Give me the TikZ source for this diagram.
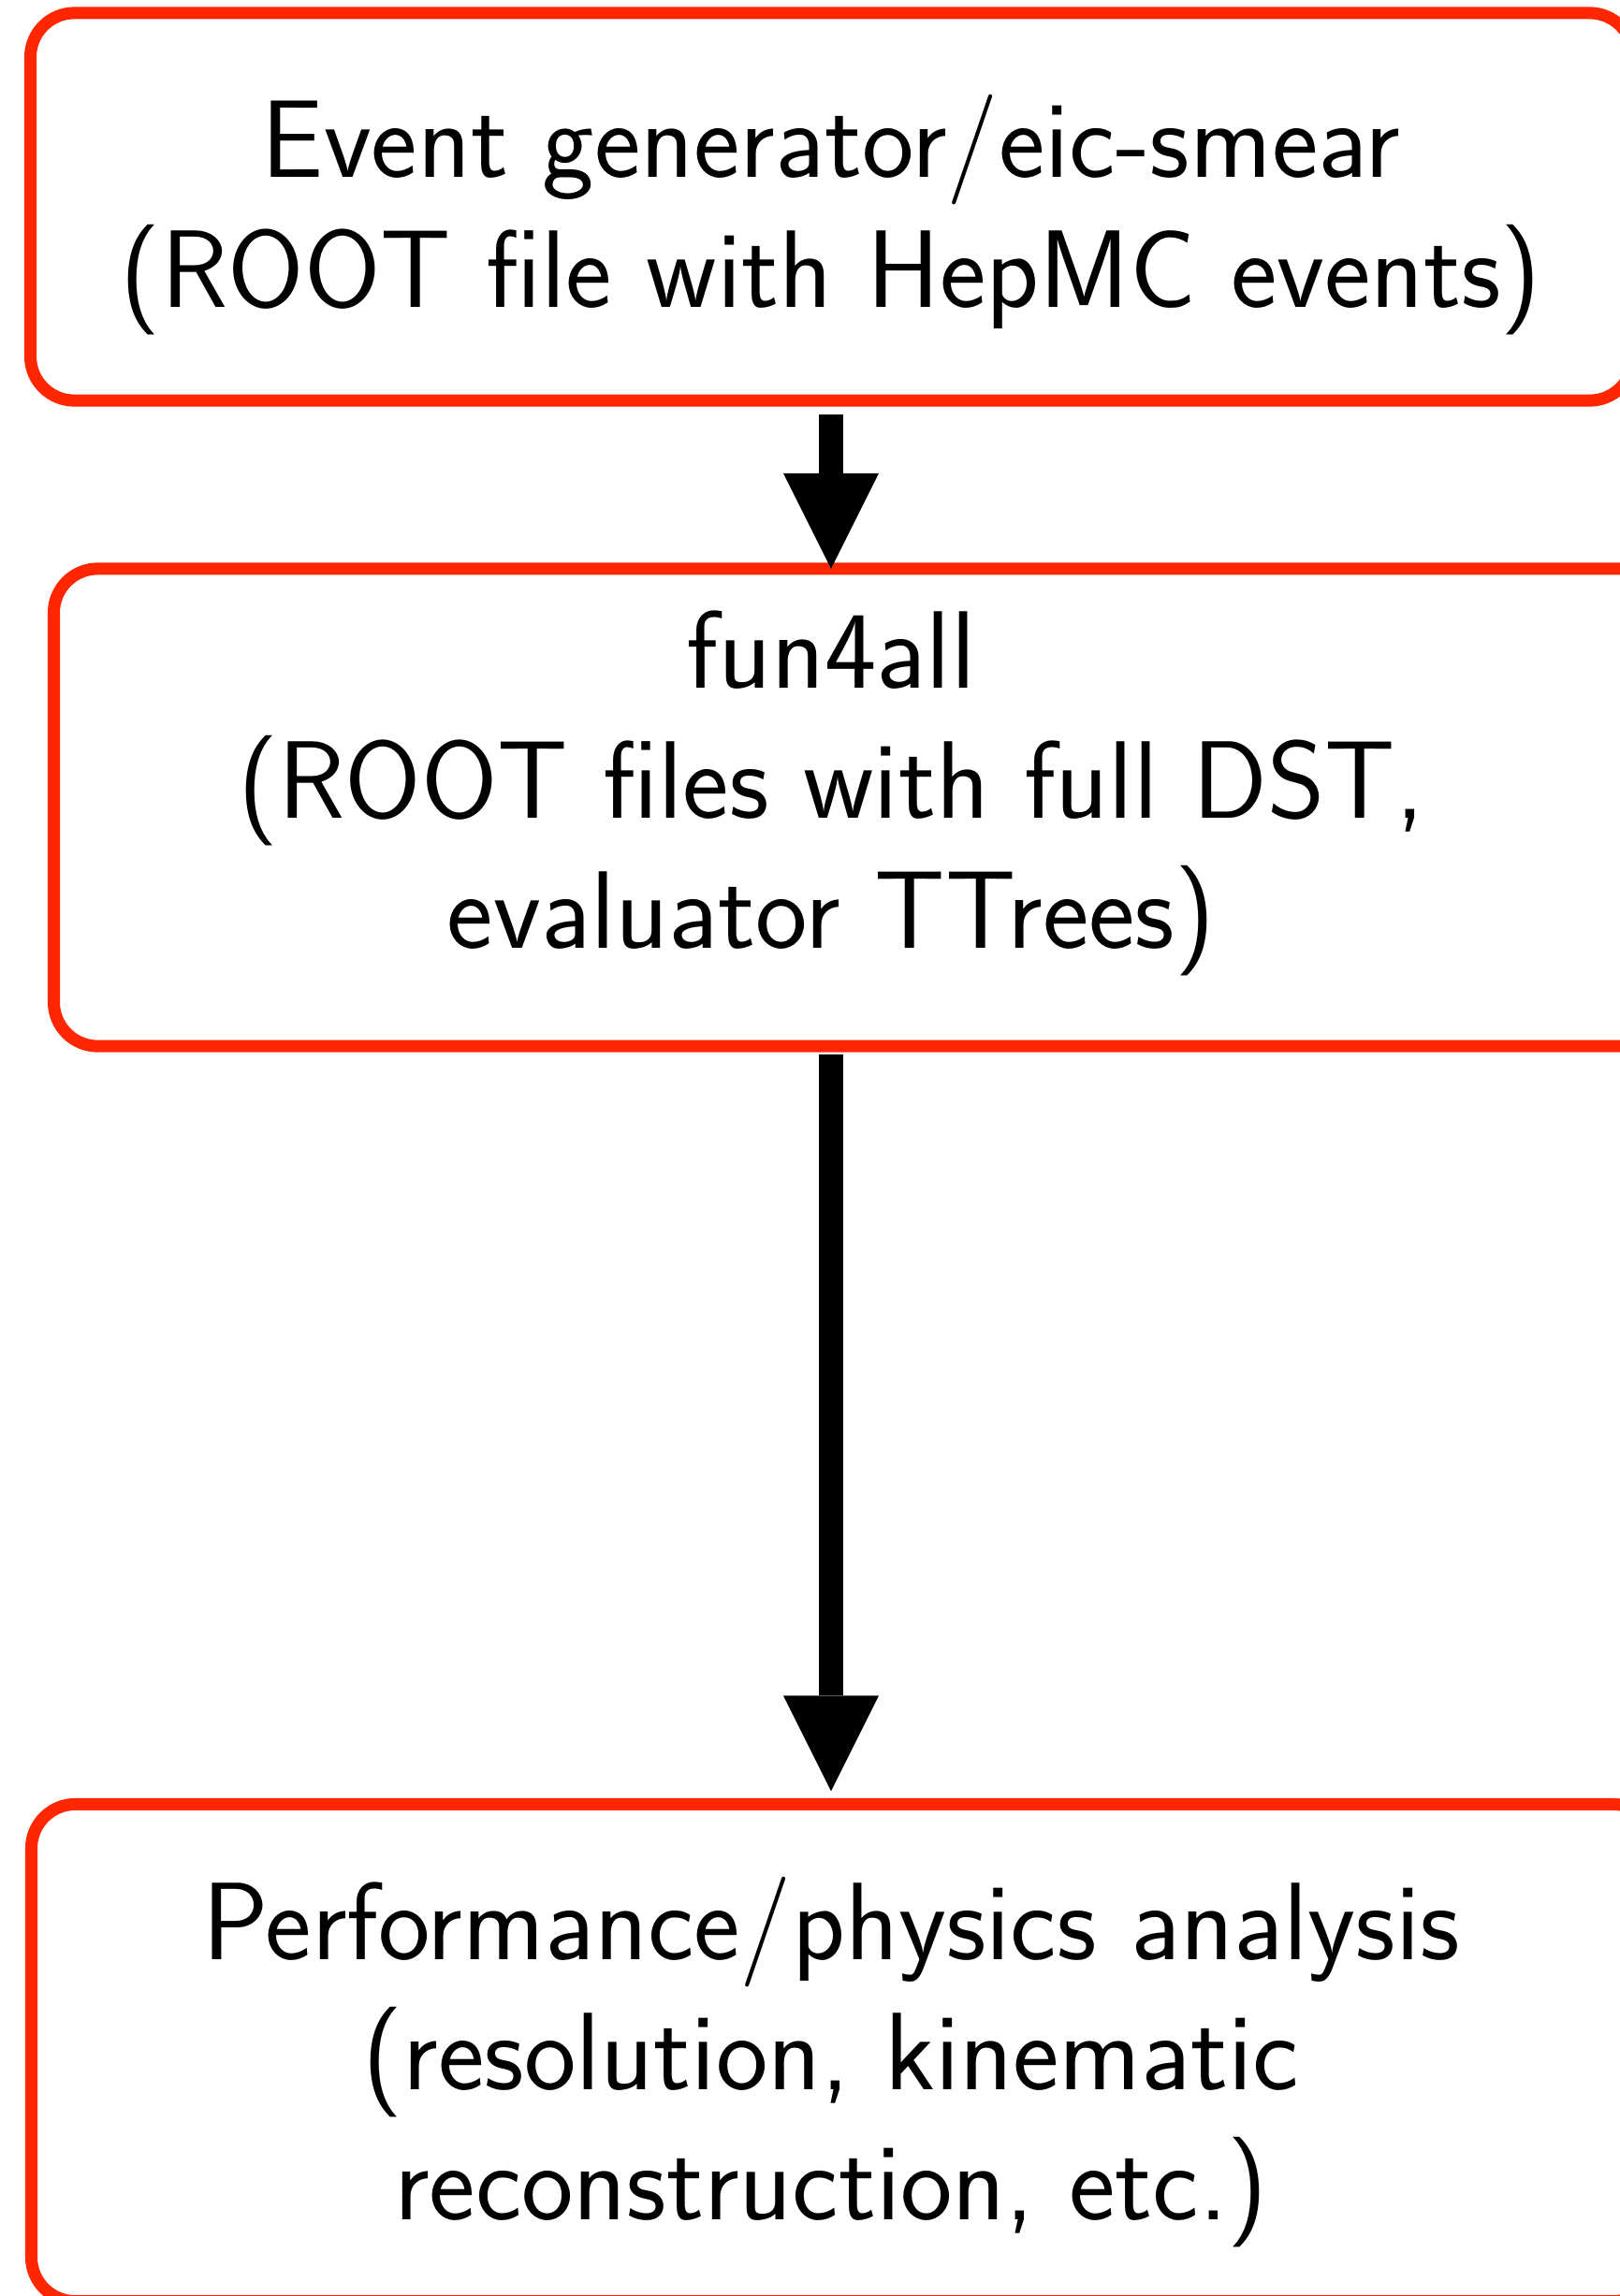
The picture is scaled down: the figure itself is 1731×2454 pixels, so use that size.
\documentclass[tikz,border=0pt]{standalone}
\usepackage{tikz}
\usetikzlibrary{arrows.meta,calc}
\definecolor{boxred}{RGB}{255,38,0}

\begin{document}
\begin{tikzpicture}
[x=0.01cm,y=-0.01cm,
 box/.style={draw=boxred,line width=0.13cm,rounded corners=0.47cm,outer sep=0pt,inner sep=0pt},
 lbl/.style={align=center,font=\fontsize{33.5}{39.5}\selectfont\sffamily},
 flow/.style={line width=0.26cm,-{Triangle[length=1.02cm,width=1.02cm,line width=0pt]}}]
\useasboundingbox (0,0) rectangle (1731,2454);

\node[box,minimum width=17.12cm,minimum height=4.14cm] (gen) at (889,221) {};
\node[lbl] (gentxt) at (888,230) {Event generator/eic-smear\\(ROOT file with HepMC events)};

\node[box,minimum width=17.32cm,minimum height=5.10cm] (sim) at (924,863) {};
\node[lbl] (simtxt) at (888,848) {fun4all\\(ROOT files with full DST,\\evaluator TTrees)};

\node[box,minimum width=17.36cm,minimum height=5.31cm] (ana) at (902,2194) {};
\node[lbl] (anatxt) at (888,2204) {Performance/physics analysis\\(resolution, kinematic\\reconstruction, etc.)};

\draw[flow] ($(gen.south -| gentxt)+(0,15)$) -- (gentxt |- sim.north);
\draw[flow] ($(sim.south -| simtxt)+(0,9)$) -- ($(ana.north -| simtxt)+(0,-14)$);
\end{tikzpicture}
\end{document}
